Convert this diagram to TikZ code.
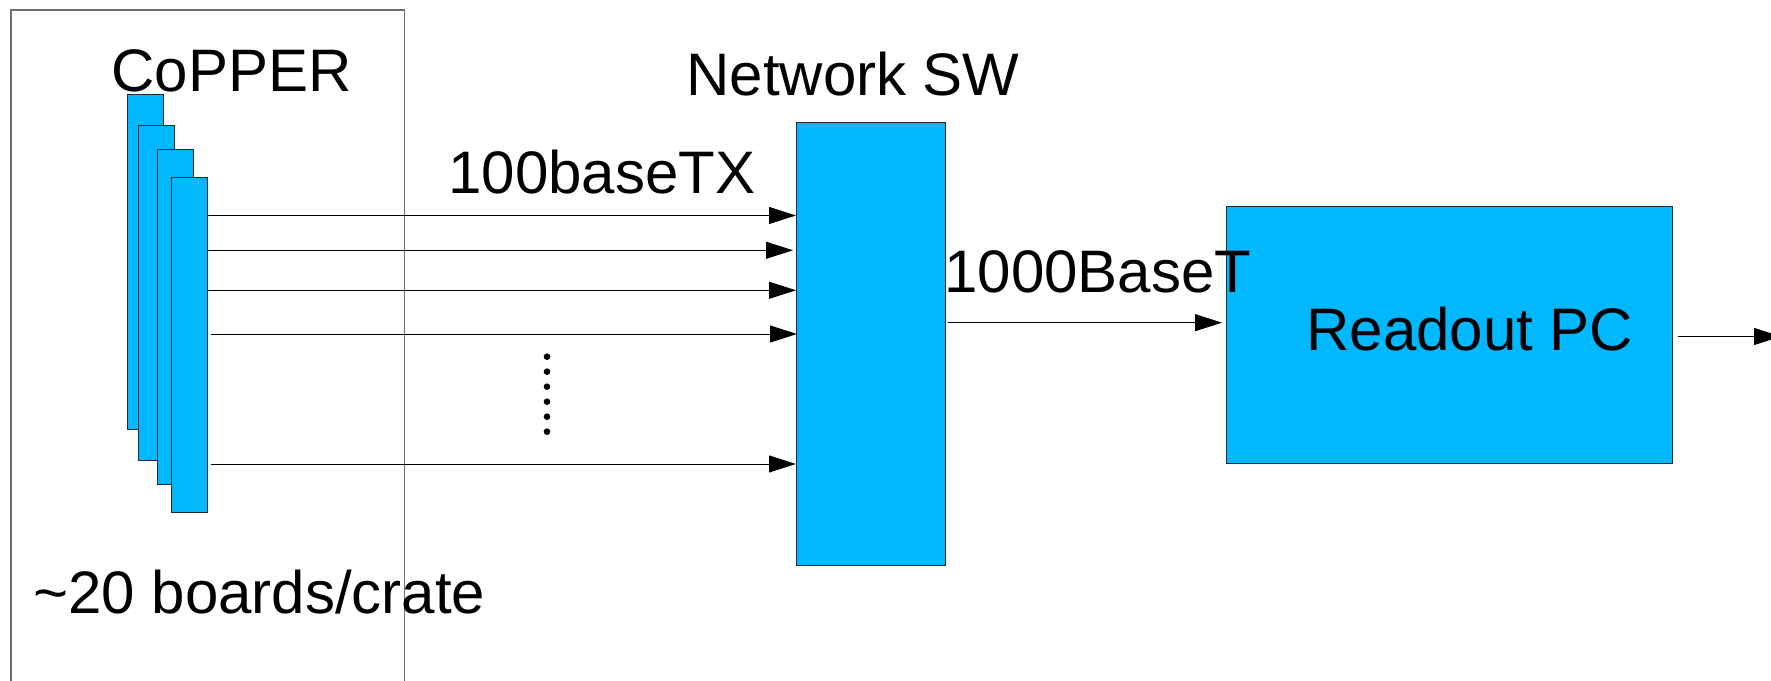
\documentclass[tikz,border=0pt]{standalone}
\usepackage{fontspec}
\setmainfont{Liberation Sans}
\usepackage{tikz}
\usetikzlibrary{
  arrows.meta,
  positioning
}
\usepackage{xcolor}
\definecolor{boardblue}{RGB}{0, 184, 255}
\definecolor{edgeclr}{RGB}{40, 40, 40}
\definecolor{crateclr}{RGB}{110, 110, 110}
\tikzset{
  % Kartalar va bloklar
  board/.style     = {fill=boardblue, draw=edgeclr, line width=0.5pt,
                      inner sep=0pt, outer sep=0pt,
                      minimum width=7.2mm, minimum height=67mm},
  unit/.style      = {fill=boardblue, draw=edgeclr, line width=0.5pt,
                      inner sep=0pt, outer sep=0pt},
  cratebox/.style  = {draw=crateclr, line width=0.6pt, inner sep=0pt, outer sep=0pt},
  % Aloqa chiziqlari
  link/.style      = {-{Triangle[length=5.4mm, width=3.4mm]}, line width=0.55pt, black},
  % Yozuvlar
  lab/.style       = {font=\fontsize{34.14}{40}\selectfont, inner sep=0pt, anchor=base west},
  dotpt/.style     = {black},
}

\begin{document}
\begin{tikzpicture}[x=0.2mm, y=0.2mm]
  \useasboundingbox (0,0) rectangle (1771,681);
  % Krate ramkasi
  \node[cratebox, minimum width=78.7mm, minimum height=138.2mm] (crate) at (207.75,325.5) {};
  % CoPPER kartalari
  \node[board] (b1) at (145.5,419.5) {};
  \node[board] (b2) at (156.5,388) {};
  \node[board] (b3) at (175.8,364.3) {};
  \node[board] (b4) at (189.7,335.8) {};
  % Tarmoq kommutatori va PC
  \node[unit, minimum width=29.9mm, minimum height=88.46mm] (sw) at (870.75,337.15) {};
  \node[unit, minimum width=89.2mm, minimum height=51.48mm] (pc) at (1449,346) {};
  \coordinate (out) at (1781,344.5);
  % Yozuvlar
  \node[lab] (copper)  at (111,589)    {CoPPER};
  \node[lab] (swlab)   at (686,585.3)  {Network SW};
  \node[lab] (tx)      at (448,487.7)  {100baseTX};
  \node[lab] (gbe)     at (944,388.3)  {1000BaseT};
  \node[lab] (pclab)   at (1306,330.3) {Readout PC};
  \node[lab] (nboards) at (33,67)      {\char"007E 20 boards/crate};
  % 100baseTX chiziqlari
  \draw[link] (b4.east |- 0,465.5) -- (sw.west |- 0,465.5);
  \draw[link] (b4.east |- 0,430.7) -- ([xshift=-0.6mm]sw.west |- 0,430.7);
  \draw[link] (b4.east |- 0,390.7) -- (sw.west |- 0,390.7);
  \draw[link] ([xshift=0.6mm]b4.east |- 0,347) -- ([xshift=0.2mm]sw.west |- 0,347);
  \draw[link] ([xshift=0.6mm]b4.east |- 0,217) -- (sw.west |- 0,217);
  % Nuqtalar
  \foreach \y in {324.3,309.3,294.3,279.3,264.3,249.3}
    \fill[dotpt] (547,\y) circle (3.3);
  % 1000BaseT va chiqish
  \draw[link] ([xshift=0.5mm]sw.east |- 0,358.3) -- ([xshift=-0.8mm]pc.west |- 0,358.3);
  \draw[link] ([xshift=1.2mm]pc.east |- out) -- (out);
\end{tikzpicture}
\end{document}
